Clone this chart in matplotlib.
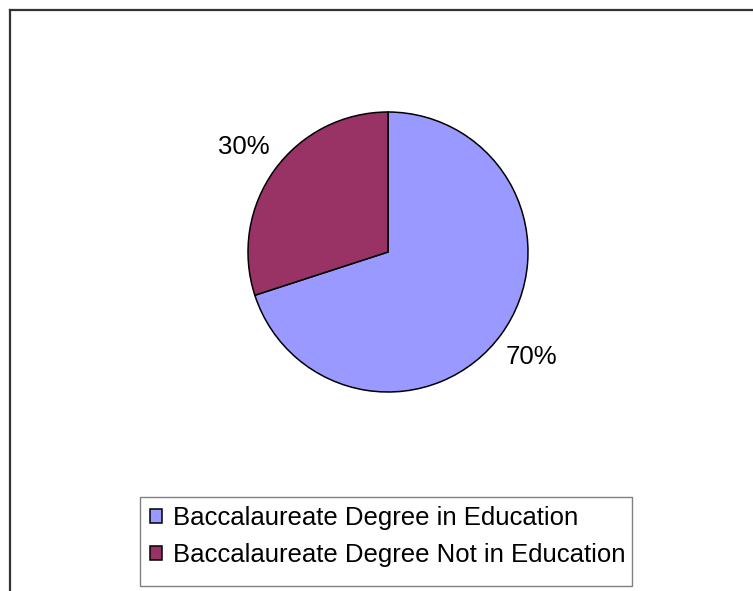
import matplotlib
matplotlib.use('Agg')
import matplotlib.pyplot as plt
from matplotlib.lines import Line2D
from matplotlib.patches import Patch, Rectangle

labels = ['Baccalaureate Degree in Education', 'Baccalaureate Degree Not in Education']
values = [70, 30]
colors = ['#9999FF', '#993366']

plt.rcParams['font.family'] = ['Liberation Sans', 'DejaVu Sans']
W, H = 753, 591
fig = plt.figure(figsize=(W / 100, H / 100), dpi=100)

# pie area in pixels: centre (388, 252), radius 140
ax = fig.add_axes([248 / W, 1 - 392 / H, 280 / W, 280 / H])
wedges, texts = ax.pie(values, colors=colors, startangle=90, counterclock=False,
                       labels=['%d%%' % v for v in values], labeldistance=1.27,
                       wedgeprops=dict(edgecolor='black', linewidth=1.1),
                       textprops=dict(fontsize=18.5, color='black'))
for t in texts:
    t.set_ha('center')
    t.set_va('center')
ax.set_xlim(-1, 1)
ax.set_ylim(-1, 1)
ax.set_aspect('equal')
ax.axis('off')

# chart area border (only top and left visible in crop)
fig.add_artist(Line2D([9.5 / W, 1], [1 - 9.5 / H, 1 - 9.5 / H], color='#333333', lw=1.6))
fig.add_artist(Line2D([9.5 / W, 9.5 / W], [0, 1 - 9.5 / H], color='#333333', lw=1.6))

# legend box
fig.add_artist(Rectangle((139.5 / W, 1 - 586 / H), (632 - 139.5) / W, (586 - 497) / H,
                         transform=fig.transFigure, facecolor='white',
                         edgecolor='#808080', lw=1.0))
handles = [Patch(facecolor=c, edgecolor='black', linewidth=1.1) for c in colors]
leg = fig.legend(handles, labels, loc='upper left',
                 bbox_to_anchor=(150 / W, 1 - 506 / H), borderaxespad=0,
                 fontsize=18.5, frameon=False,
                 handlelength=0.47, handleheight=0.47, handletextpad=0.43,
                 borderpad=0, labelspacing=0.51)

fig.savefig('out.png', dpi=100, facecolor='white')
